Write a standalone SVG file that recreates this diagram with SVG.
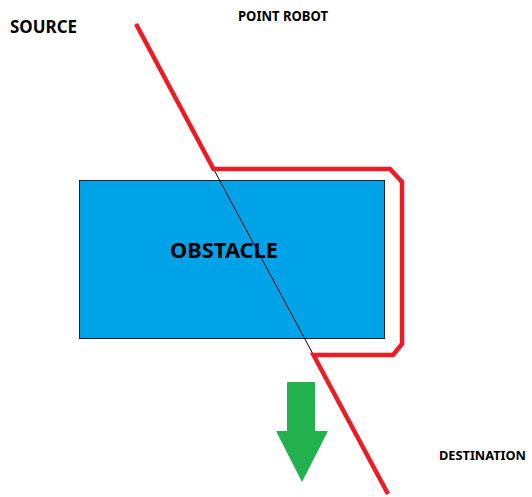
<svg xmlns="http://www.w3.org/2000/svg" width="532" height="497" viewBox="0 0 532 497">
  <style>
    .label { font-family: "Noto Sans", "Open Sans", "Liberation Sans", sans-serif; font-weight: bold; fill: #000; }
    .path { fill: none; stroke: #ED1C24; stroke-width: 4.5; stroke-linejoin: miter; }
  </style>
  <rect width="532" height="497" fill="#fff"/>

  <g id="obstacle">
    <rect x="79.5" y="180.5" width="305" height="158" fill="#00A2E8" stroke="#222" stroke-width="1"/>
    <text class="label" x="170" y="258" font-size="21" textLength="108" lengthAdjust="spacingAndGlyphs">OBSTACLE</text>
  </g>

  <g id="connectors">
    <!-- straight line through the obstacle -->
    <line x1="213.5" y1="169" x2="313.5" y2="355" stroke="#000" stroke-width="1"/>
    <!-- detour path of the robot around the obstacle -->
    <polyline class="path" points="136,24 213.5,169 390,169 402,182 402,344 393,355 313.5,355 388,494"/>
  </g>

  <g id="source">
    <text class="label" x="10" y="33" font-size="17" textLength="67" lengthAdjust="spacingAndGlyphs">SOURCE</text>
  </g>
  <g id="point-robot">
    <text class="label" x="238" y="21" font-size="13.5" textLength="90" lengthAdjust="spacingAndGlyphs">POINT ROBOT</text>
  </g>
  <g id="destination">
    <text class="label" x="439" y="460" font-size="13" textLength="87" lengthAdjust="spacingAndGlyphs">DESTINATION</text>
  </g>

  <g id="direction-arrow">
    <path d="M288,382 L314,382 Q315,382 315,383 L315,431 L327,431 Q328,431 327.5,432 L302,482 L276.5,432 Q276,431 277,431 L287,431 L287,383 Q287,382 288,382 Z" fill="#22B14C"/>
  </g>
</svg>
